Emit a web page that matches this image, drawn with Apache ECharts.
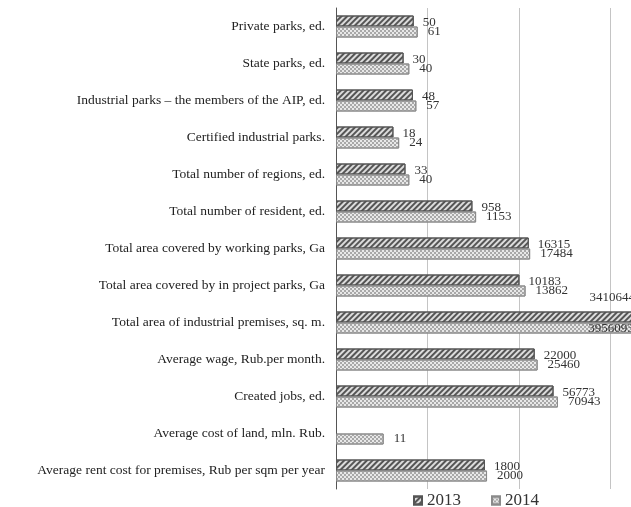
<!DOCTYPE html>
<html><head><meta charset="utf-8">
<script src="https://cdn.jsdelivr.net/npm/echarts@6/dist/echarts.min.js"></script>
<style>html,body{margin:0;padding:0;background:#fff}#c{width:631px;height:507px}</style>
</head><body><div id="c"></div>
<script>
var categories = ['Private parks, ed.', 'State parks, ed.', 'Industrial parks \u2013 the members of the AIP, ed.', 'Certified industrial parks.', 'Total number of regions, ed.', 'Total number of resident, ed.', 'Total area covered by working parks, Ga', 'Total area covered by in project parks, Ga', 'Total area of industrial premises, sq. m.', 'Average wage, Rub.per month.', 'Created jobs, ed.', 'Average cost of land, mln. Rub.', 'Average rent cost for premises, Rub per sqm per year'];
var values2013 = [50, 30, 48, 18, 33, 958, 16315, 10183, 3410644, 22000, 56773, null, 1800];
var values2014 = [61, 40, 57, 24, 40, 1153, 17484, 13862, 3956093, 25460, 70943, 11, 2000];
var seriesNames = ['2013', '2014'];

var font = 'Liberation Serif';
var bigIndex = 8;

function buildData(arr, isFirst) {
  return arr.map(function (v, i) {
    if (v === null) return '-';
    if (i === bigIndex) {
      return {
        value: v,
        label: isFirst ? {position: 'insideRight', distance: 0, offset: [0, -19]}
                       : {position: 'insideRight', distance: 4, offset: [0, 1]}
      };
    }
    return v;
  });
}

var chart = echarts.init(document.getElementById('c'));
chart.setOption({
  animation: false,
  backgroundColor: '#fff',
  grid: {left: 336, top: 8, height: 481, right: 0},
  legend: {
    left: 413, top: 492, padding: 0, itemWidth: 8, itemHeight: 8, itemGap: 30, icon: 'rect',
    textStyle: {fontFamily: font, fontSize: 17, color: '#333'},
    data: seriesNames
  },
  yAxis: {
    type: 'category', data: categories, inverse: true,
    axisLine: {lineStyle: {color: '#555'}},
    axisTick: {length: 4, lineStyle: {color: '#555'}},
    axisLabel: {fontFamily: font, fontSize: 13.5, color: '#222', margin: 11}
  },
  xAxis: {
    type: 'log', logBase: 100, min: 1, max: 2.8e6,
    axisLine: {show: false}, axisTick: {show: false}, axisLabel: {show: false},
    splitLine: {show: true, lineStyle: {color: '#c4c4c4'}}
  },
  series: [
    {
      name: seriesNames[0], type: 'bar', barWidth: 11, barGap: '0%', clip: false,
      data: buildData(values2013, true),
      itemStyle: {
        color: '#dcdcdc', borderColor: '#555', borderWidth: 1,
        decal: {symbol: 'rect', symbolSize: 1, dashArrayX: [1, 0], dashArrayY: [1.1, 1.7], rotation: -Math.PI / 4, color: '#555'}
      },
      label: {show: true, position: 'right', distance: 9, offset: [0, 2], fontFamily: font, fontSize: 13, color: '#333'}
    },
    {
      name: seriesNames[1], type: 'bar', barWidth: 11, barGap: '0%', clip: false,
      data: buildData(values2014, false),
      itemStyle: {
        color: '#e8e8e8', borderColor: '#8a8a8a', borderWidth: 1,
        decal: {symbol: 'rect', symbolSize: 1, dashArrayX: [[1.5, 1.5], [0, 1.5, 1.5, 0]], dashArrayY: [1.5, 0], color: '#a8a8a8'}
      },
      label: {show: true, position: 'right', distance: 10, offset: [0, 0], fontFamily: font, fontSize: 13, color: '#333'}
    }
  ]
});
</script></body></html>
